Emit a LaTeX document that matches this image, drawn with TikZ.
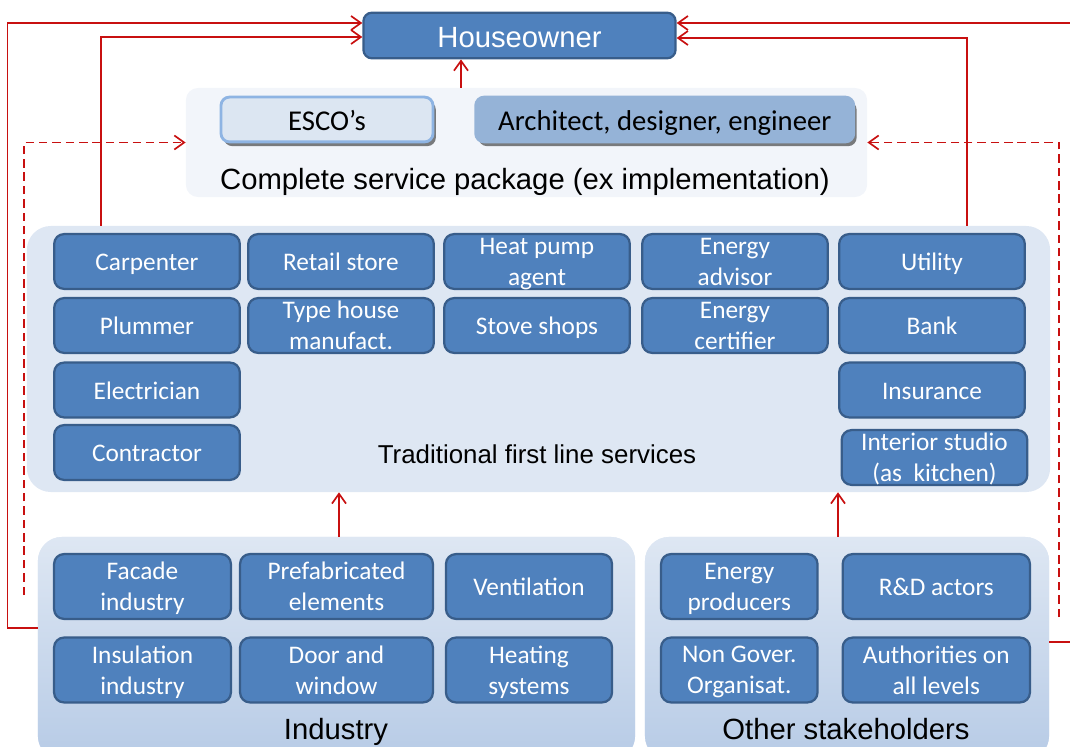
\documentclass[tikz,border=0pt]{standalone}
\usepackage{fontspec}
\setmainfont{Liberation Sans}
\newfontfamily\boxfont{Carlito}
\usetikzlibrary{arrows.meta, shadows}
\definecolor{boxblue}{RGB}{79, 129, 189}
\definecolor{boxedge}{RGB}{56, 93, 138}
\definecolor{groupfill}{RGB}{222, 231, 243}
\definecolor{groupdark}{RGB}{183, 203, 230}
\definecolor{pkgfill}{RGB}{242, 245, 250}
\definecolor{escofill}{RGB}{220, 230, 242}
\definecolor{escoedge}{RGB}{142, 180, 227}
\definecolor{archfill}{RGB}{149, 179, 215}
\definecolor{linkred}{RGB}{200, 16, 16}
\tikzset{
  svcbox/.style={draw=boxedge, fill=boxblue, line width=1.6pt, rounded corners=7pt, text=white, align=center, inner sep=0pt, minimum width=4.64cm, minimum height=1.37cm, font=\boxfont\fontsize{18}{22}\selectfont, text height=17pt, text depth=4pt},
  twoline/.style={text height={}, text depth=0pt},
  groupbg/.style={fill=groupfill, rounded corners=0.6cm, inner sep=0pt},
  grouptitle/.style={anchor=base, font=\fontsize{20.8}{24}\selectfont},
  topbox/.style={line width=2pt, rounded corners=6pt, minimum height=1.12cm, text height=17pt, text depth=1pt, font=\boxfont\fontsize{20.4}{24}\selectfont, drop shadow={shadow xshift=2pt, shadow yshift=-3pt, opacity=0.5, fill=black}},
  link/.style={draw=linkred, line width=1.2pt, -{Straight Barb[length=7pt, width=10pt]}},
  dlink/.style={link, dashed, dash pattern=on 6pt off 3.5pt},
}

\begin{document}
\begin{tikzpicture}[x=0.025cm, y=-0.025cm]
  \clip (0,0) rectangle (1070,747);

  % Houseowner and complete package
  \node[draw=boxedge, fill=boxblue, line width=1.6pt, rounded corners=6pt, minimum width=7.8cm, minimum height=1.14cm, text height=19pt, text depth=2pt, text=white, font=\fontsize{20.8}{24}\selectfont] (owner) at (519.5,35.5) {Houseowner};
  \node[fill=pkgfill, rounded corners=0.3cm, minimum width=17.025cm, minimum height=2.725cm] (pkg) at (526.5,142.5) {};
  \node[topbox, fill=escofill, draw=escoedge, minimum width=5.3cm] (esco) at (327,119.5) {ESCO’s};
  \node[topbox, fill=archfill, draw=archfill, minimum width=9.45cm] (arch) at (664.75,119.5) {Architect, designer, engineer};
  \node[grouptitle] (pkglbl) at (525,190) {Complete service package (ex implementation)};

  % Traditional first line services
  \node[groupbg, minimum width=25.575cm, minimum height=6.65cm] (trad) at (538.5,359) {};
  \node[svcbox] (carp) at (147,261.5) {Carpenter};
  \node[svcbox] (retail) at (341,261.5) {Retail store};
  \node[svcbox, twoline] (heat) at (537,261.5) {Heat pump\\agent};
  \node[svcbox, twoline] (advisor) at (735,261.5) {Energy\\advisor};
  \node[svcbox] (utility) at (932,261.5) {Utility};
  \node[svcbox] (plum) at (147,325.5) {Plummer};
  \node[svcbox, twoline] (typehouse) at (341,325.5) {Type house\\manufact.};
  \node[svcbox] (stove) at (537,325.5) {Stove shops};
  \node[svcbox, twoline] (certifier) at (735,325.5) {Energy\\certifier};
  \node[svcbox] (bank) at (932,325.5) {Bank};
  \node[svcbox] (elec) at (147,390) {Electrician};
  \node[svcbox] (insur) at (932,390) {Insurance};
  \node[svcbox] (contr) at (147,452.5) {Contractor};
  \node[svcbox, twoline] (interior) at (934.5,457.5) {Interior studio\\(as~~kitchen)};
  \node[anchor=base, font=\fontsize{18.4}{22}\selectfont] (tradlbl) at (537,463) {Traditional first line services};

  % Industry and other stakeholders
  \node[groupbg, top color=groupfill, middle color=groupfill, bottom color=groupdark, minimum width=14.925cm, minimum height=5.575cm] (industry) at (336.5,648.5) {};
  \node[groupbg, top color=groupfill, middle color=groupfill, bottom color=groupdark, minimum width=10.1cm, minimum height=5.575cm] (other) at (847,648.5) {};
  \node[svcbox, twoline, minimum width=4.42cm, minimum height=1.62cm] (facade) at (142.5,586.5) {Facade\\industry};
  \node[svcbox, twoline, minimum width=4.82cm, minimum height=1.62cm] (prefab) at (336.5,586.5) {Prefabricated\\elements};
  \node[svcbox, minimum width=4.15cm, minimum height=1.62cm] (vent) at (529,586.5) {Ventilation};
  \node[svcbox, twoline, minimum width=4.42cm, minimum height=1.62cm] (insul) at (142.5,670) {Insulation\\industry};
  \node[svcbox, twoline, minimum width=4.82cm, minimum height=1.62cm] (door) at (336.5,670) {Door and\\window};
  \node[svcbox, twoline, minimum width=4.15cm, minimum height=1.62cm] (heating) at (529,670) {Heating\\systems};
  \node[svcbox, twoline, minimum width=3.91cm, minimum height=1.62cm] (producers) at (739.3,586.5) {Energy\\producers};
  \node[svcbox, minimum width=4.68cm, minimum height=1.62cm] (rnd) at (936.3,586.5) {R\&D actors};
  \node[svcbox, twoline, minimum width=3.91cm, minimum height=1.62cm] (ngo) at (739.3,670) {Non Gover.\\Organisat.};
  \node[svcbox, twoline, minimum width=4.68cm, minimum height=1.62cm] (auth) at (936.3,670) {Authorities on\\all levels};
  \node[grouptitle] (indlbl) at (336,739.5) {Industry};
  \node[grouptitle] (othlbl) at (846,739.5) {Other stakeholders};

  % connectors
  \coordinate (indtap) at (24,595);
  \coordinate (othtap) at (1059,617);
  \draw[link] (pkg.north -| 461,0) -- (owner.south -| 461,0);
  \draw[link] (industry.north -| 339,0) -- (trad.south -| 339,0);
  \draw[link] (other.north -| 838,0) -- (trad.south -| 838,0);
  \draw[link] (industry.west |- 0,628) -- ++(-30,0) |- (owner.west |- 0,23);
  \draw[link] (trad.north -| 101,0) |- (owner.west |- 0,37);
  \draw[link] (other.east |- 0,642) -- ++(22,0) |- (owner.east |- 0,23);
  \draw[link] (trad.north -| 967,0) |- (owner.east |- 0,38);
  \draw[dlink] (indtap) |- (pkg.west);
  \draw[dlink] (othtap) |- (pkg.east);
\end{tikzpicture}
\end{document}
